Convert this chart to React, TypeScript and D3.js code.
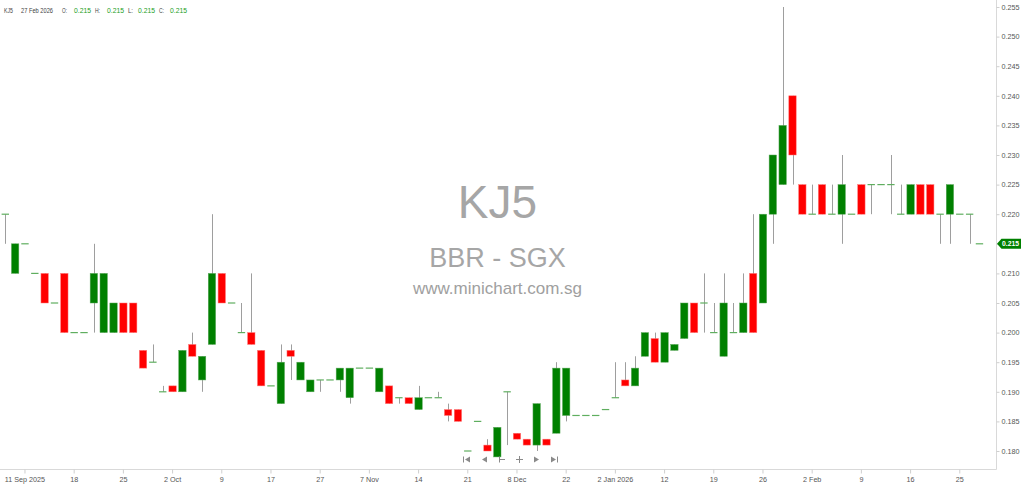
import React, { useRef, useEffect } from 'react';
import * as d3 from 'd3';

// OHLC, one entry per session (oldest first)
const opens = [
    0.220, 0.210, 0.215, 0.210, 0.210, 0.205, 0.210, 0.200, 0.200, 0.205,
    0.200, 0.200, 0.205, 0.205, 0.197, 0.195, 0.190, 0.191, 0.190, 0.198,
    0.192, 0.198, 0.210, 0.205, 0.200, 0.200, 0.197, 0.191, 0.188, 0.197,
    0.192, 0.190, 0.192, 0.192, 0.192, 0.189, 0.194, 0.194, 0.190, 0.191,
    0.189, 0.189, 0.187, 0.189, 0.189, 0.187, 0.187, 0.180, 0.185, 0.181,
    0.179, 0.190, 0.183, 0.182, 0.181, 0.182, 0.183, 0.186, 0.186, 0.186,
    0.186, 0.187, 0.189, 0.192, 0.191, 0.196, 0.199, 0.195, 0.197, 0.199,
    0.205, 0.205, 0.200, 0.196, 0.200, 0.200, 0.210, 0.205, 0.220, 0.225,
    0.240, 0.225, 0.220, 0.225, 0.220, 0.220, 0.220, 0.225, 0.225, 0.225,
    0.225, 0.220, 0.220, 0.225, 0.225, 0.220, 0.220, 0.220, 0.220, 0.215,
];
const highs = [
    0.220, 0.215, 0.215, 0.210, 0.210, 0.205, 0.210, 0.200, 0.200, 0.215,
    0.210, 0.205, 0.205, 0.205, 0.197, 0.198, 0.191, 0.191, 0.197, 0.200,
    0.196, 0.220, 0.210, 0.205, 0.205, 0.210, 0.197, 0.191, 0.198, 0.198,
    0.195, 0.192, 0.192, 0.192, 0.194, 0.194, 0.194, 0.194, 0.194, 0.191,
    0.189, 0.189, 0.191, 0.189, 0.190, 0.188, 0.187, 0.180, 0.185, 0.182,
    0.184, 0.190, 0.183, 0.182, 0.188, 0.182, 0.195, 0.194, 0.186, 0.186,
    0.186, 0.187, 0.195, 0.195, 0.196, 0.200, 0.200, 0.200, 0.198, 0.205,
    0.205, 0.210, 0.205, 0.210, 0.205, 0.210, 0.220, 0.220, 0.230, 0.255,
    0.240, 0.225, 0.225, 0.225, 0.225, 0.230, 0.220, 0.225, 0.225, 0.225,
    0.230, 0.225, 0.225, 0.225, 0.225, 0.220, 0.225, 0.220, 0.220, 0.215,
];
const lows = [
    0.215, 0.210, 0.215, 0.210, 0.205, 0.205, 0.200, 0.200, 0.200, 0.200,
    0.200, 0.200, 0.200, 0.200, 0.194, 0.195, 0.190, 0.190, 0.190, 0.196,
    0.190, 0.198, 0.205, 0.205, 0.200, 0.198, 0.191, 0.191, 0.188, 0.192,
    0.192, 0.190, 0.190, 0.192, 0.190, 0.188, 0.194, 0.194, 0.190, 0.188,
    0.188, 0.188, 0.187, 0.189, 0.189, 0.185, 0.185, 0.180, 0.185, 0.180,
    0.179, 0.181, 0.182, 0.181, 0.180, 0.181, 0.183, 0.185, 0.186, 0.186,
    0.186, 0.187, 0.189, 0.191, 0.191, 0.196, 0.195, 0.195, 0.197, 0.199,
    0.200, 0.200, 0.200, 0.196, 0.200, 0.200, 0.200, 0.205, 0.215, 0.225,
    0.225, 0.220, 0.220, 0.220, 0.220, 0.215, 0.220, 0.220, 0.220, 0.225,
    0.220, 0.220, 0.220, 0.220, 0.220, 0.215, 0.215, 0.220, 0.215, 0.215,
];
const closes = [
    0.220, 0.215, 0.215, 0.210, 0.205, 0.205, 0.200, 0.200, 0.200, 0.210,
    0.210, 0.205, 0.200, 0.200, 0.194, 0.195, 0.190, 0.190, 0.197, 0.196,
    0.196, 0.210, 0.205, 0.205, 0.200, 0.198, 0.191, 0.191, 0.195, 0.196,
    0.195, 0.192, 0.192, 0.192, 0.194, 0.194, 0.194, 0.194, 0.194, 0.188,
    0.189, 0.188, 0.189, 0.189, 0.189, 0.186, 0.185, 0.180, 0.185, 0.180,
    0.184, 0.190, 0.182, 0.181, 0.188, 0.181, 0.194, 0.194, 0.186, 0.186,
    0.186, 0.187, 0.189, 0.191, 0.194, 0.200, 0.195, 0.200, 0.198, 0.205,
    0.200, 0.205, 0.200, 0.205, 0.200, 0.205, 0.200, 0.220, 0.230, 0.235,
    0.230, 0.220, 0.220, 0.220, 0.220, 0.225, 0.220, 0.220, 0.225, 0.225,
    0.225, 0.220, 0.225, 0.220, 0.220, 0.220, 0.225, 0.220, 0.220, 0.215,
];

const xTickIndex = [2, 7, 12, 17, 22, 27, 32, 37, 42, 47, 52, 57, 62, 67, 72, 77, 82, 87, 92, 97];
const xTickLabels = [
    '11 Sep 2025', '18', '25', '2 Oct', '9', '17', '27', '7 Nov', '14', '21',
    '8 Dec', '22', '2 Jan 2026', '12', '19', '26', '2 Feb', '9', '16', '25',
];
const yTickValues = [
    0.180, 0.185, 0.190, 0.195, 0.200, 0.205, 0.210, 0.215,
    0.220, 0.225, 0.230, 0.235, 0.240, 0.245, 0.250, 0.255,
];

const ticker = 'KJ5';
const lastDate = '27 Feb 2026';
const exchangeLine = 'BBR - SGX';
const siteLine = 'www.minichart.com.sg';

const FONT = "'Liberation Sans', Arial, sans-serif";
const UP = '#008000';
const DOWN = '#ff0000';

export default function App() {
    const svgRef = useRef(null);

    const width = 1024;
    const height = 484;
    const axisX = 996.5;
    const axisY = 469.5;

    useEffect(() => {
        if (!svgRef.current) return;
        const svg = d3.select(svgRef.current);
        svg.selectAll('*').remove();

        const n = closes.length;
        const idx = d3.range(n);

        const x = d3.scaleBand<number>()
            .domain(idx)
            .range([0.38, 0.38 + n * 9.84])
            .paddingInner(0.25)
            .paddingOuter(0.125);
        const bw = x.bandwidth();

        const y = d3.scaleLinear()
            .domain([0.180, 0.255])
            .range([451, 7]);

        const fmt = d3.format('.3f');

        /* watermark */
        const wm = svg.append('g')
            .attr('font-family', FONT)
            .attr('text-anchor', 'middle')
            .attr('fill', '#a6a6a6');
        wm.append('text').attr('x', 497.5).attr('y', 218).attr('font-size', 46).text(ticker);
        wm.append('text').attr('x', 497.5).attr('y', 267).attr('font-size', 27).text(exchangeLine);
        wm.append('text').attr('x', 497.5).attr('y', 294).attr('font-size', 17).attr('fill', '#a0a0a0').text(siteLine);

        /* axes lines */
        svg.append('line')
            .attr('x1', axisX).attr('x2', axisX)
            .attr('y1', 0).attr('y2', axisY)
            .attr('stroke', '#d9d9d9');
        svg.append('line')
            .attr('x1', 0).attr('x2', axisX)
            .attr('y1', axisY).attr('y2', axisY)
            .attr('stroke', '#d9d9d9');

        const xAxis = d3.axisBottom(x)
            .tickValues(xTickIndex)
            .tickSize(4)
            .tickSizeOuter(0)
            .tickPadding(3)
            .tickFormat((d) => xTickLabels[xTickIndex.indexOf(d as number)]);
        const gx = svg.append('g')
            .attr('transform', 'translate(0,' + axisY + ')')
            .call(xAxis);
        gx.select('.domain').remove();
        gx.selectAll('.tick line').attr('stroke', '#cfcfcf');
        gx.selectAll('.tick text')
            .attr('fill', '#555')
            .attr('font-size', 7.2)
            .attr('font-family', FONT);

        const yAxis = d3.axisRight(y)
            .tickValues(yTickValues)
            .tickSize(3)
            .tickPadding(2)
            .tickFormat(fmt);
        const gy = svg.append('g')
            .attr('transform', 'translate(' + axisX + ',0)')
            .call(yAxis);
        gy.select('.domain').remove();
        gy.selectAll('.tick line').attr('stroke', '#cfcfcf');
        gy.selectAll('.tick text')
            .attr('fill', '#555')
            .attr('font-size', 7.2)
            .attr('font-family', FONT);

        /* wicks */
        svg.append('g').selectAll('line').data(idx)
            .enter()
            .append('line')
                .attr('x1', i => Math.round((x(i) as number) + bw / 2) + 0.5)
                .attr('x2', i => Math.round((x(i) as number) + bw / 2) + 0.5)
                .attr('y1', i => y(highs[i]))
                .attr('y2', i => y(lows[i]))
                .attr('stroke', '#9e9e9e')
                .attr('stroke-width', 1);

        /* bodies */
        const bodies = idx.filter(i => opens[i] !== closes[i]);
        svg.append('g').selectAll('rect').data(bodies)
            .enter()
            .append('rect')
                .attr('x', i => x(i) as number)
                .attr('width', bw)
                .attr('y', i => y(Math.max(opens[i], closes[i])))
                .attr('height', i => y(Math.min(opens[i], closes[i])) - y(Math.max(opens[i], closes[i])))
                .attr('fill', i => (closes[i] > opens[i] ? UP : DOWN))
                .attr('stroke', i => (closes[i] > opens[i] ? '#5aa85a' : '#ff7a7a'))
                .attr('stroke-width', 0.5);

        /* flat sessions */
        const flats = idx.filter(i => opens[i] === closes[i]);
        svg.append('g').selectAll('line').data(flats)
            .enter()
            .append('line')
                .attr('x1', i => x(i) as number)
                .attr('x2', i => (x(i) as number) + bw)
                .attr('y1', i => y(closes[i]))
                .attr('y2', i => y(closes[i]))
                .attr('stroke', '#5fae5f')
                .attr('stroke-width', 1.2);

        /* last price tag */
        const last = closes[n - 1];
        const ly = y(last);
        svg.append('path')
            .attr('d', `M${axisX + 0.5},${ly} L${axisX + 5},${ly - 5} L1021,${ly - 5} L1021,${ly + 5} L${axisX + 5},${ly + 5} Z`)
            .attr('fill', UP);
        svg.append('text')
            .attr('x', axisX + 5.5)
            .attr('y', ly)
            .attr('dy', '0.35em')
            .attr('fill', '#fff')
            .attr('font-size', 7)
            .attr('font-weight', 'bold')
            .attr('font-family', FONT)
            .attr('textLength', 17)
            .attr('lengthAdjust', 'spacingAndGlyphs')
            .text(fmt(last));

        /* header: text, x, width, colour */
        const hd = svg.append('g')
            .attr('font-family', FONT)
            .attr('font-size', 7.5);
        const headerParts: [string, number, number, string][] = [
            [ticker, 4, 9, '#444'],
            [lastDate, 21, 32, '#444'],
            ['O:', 62, 5, '#444'],
            [fmt(opens[n - 1]), 74, 17, '#22a022'],
            ['H:', 95, 5, '#444'],
            [fmt(highs[n - 1]), 107, 17, '#22a022'],
            ['L:', 128, 5, '#444'],
            [fmt(lows[n - 1]), 138, 17, '#22a022'],
            ['C:', 159, 5, '#444'],
            [fmt(closes[n - 1]), 170, 17, '#22a022'],
        ];
        headerParts.forEach(([t, px, w, c]) => {
            hd.append('text')
                .attr('x', px).attr('y', 13)
                .attr('fill', c)
                .attr('textLength', w)
                .attr('lengthAdjust', 'spacingAndGlyphs')
                .text(t);
        });

        /* navigation buttons */
        const nav = svg.append('g').attr('fill', '#8a8a8a').attr('stroke', '#8a8a8a');
        const cy = 459.5;
        nav.append('line').attr('x1', 463.5).attr('x2', 463.5).attr('y1', cy - 3).attr('y2', cy + 3);
        nav.append('path').attr('d', `M470,${cy - 3} L465,${cy} L470,${cy + 3} Z`).attr('stroke', 'none');
        nav.append('path').attr('d', `M487,${cy - 3} L482,${cy} L487,${cy + 3} Z`).attr('stroke', 'none');
        nav.append('line').attr('x1', 499.5).attr('x2', 499.5).attr('y1', cy - 3).attr('y2', cy + 3);
        nav.append('line').attr('x1', 499.5).attr('x2', 505).attr('y1', cy).attr('y2', cy);
        nav.append('line').attr('x1', 516).attr('x2', 523).attr('y1', cy).attr('y2', cy);
        nav.append('line').attr('x1', 519.5).attr('x2', 519.5).attr('y1', cy - 3.5).attr('y2', cy + 3.5);
        nav.append('path').attr('d', `M534,${cy - 3} L539,${cy} L534,${cy + 3} Z`).attr('stroke', 'none');
        nav.append('path').attr('d', `M551,${cy - 3} L556,${cy} L551,${cy + 3} Z`).attr('stroke', 'none');
        nav.append('line').attr('x1', 557.5).attr('x2', 557.5).attr('y1', cy - 3).attr('y2', cy + 3);
    }, []);

    return (
        <svg
            ref={svgRef}
            width={width}
            height={height}
            style={{ position: 'absolute', left: 0, top: 0, background: '#fff' }}
        />
    );
}
